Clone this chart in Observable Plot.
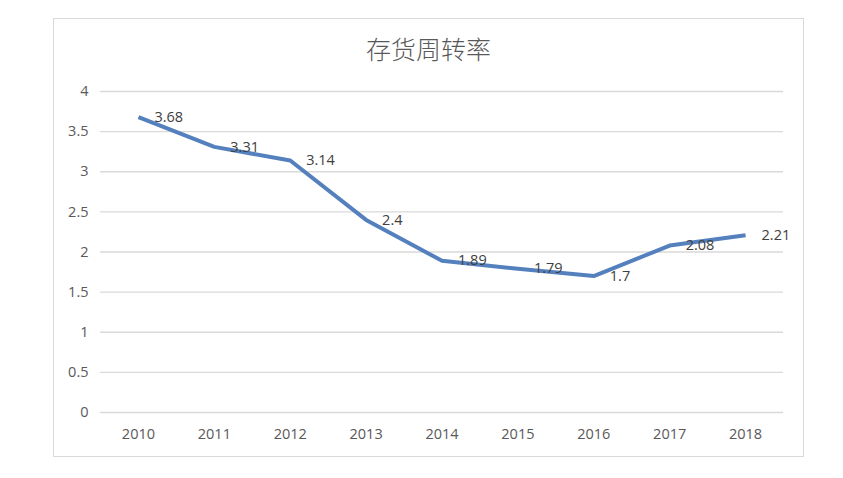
<!DOCTYPE html>
<html>
<head>
<meta charset="utf-8">
<script src="https://cdn.jsdelivr.net/npm/d3@7"></script>
<script src="https://cdn.jsdelivr.net/npm/@observablehq/plot@0.6"></script>
<style>
  html, body { margin: 0; padding: 0; background: #fff; }
  #wrap { position: relative; width: 843px; height: 478px; font-family: "Noto Sans CJK SC", "Open Sans", sans-serif; }
  #border { position: absolute; left: 53px; top: 18px; width: 749px; height: 437px; border: 1.5px solid #d9d9d9; pointer-events: none; }
  #title { position: absolute; left: 53px; width: 751px; top: 31px; line-height: 34px; text-align: center; font-size: 25px; font-weight: 300; color: #595959; font-family: "Noto Sans CJK SC", sans-serif; }
  #chart { position: absolute; left: 0; top: 0; }
</style>
</head>
<body>
<div id="wrap">
  <div id="border"></div>
  <div id="title">存货周转率</div>
  <div id="chart"></div>
</div>
<script>
const years = ["2010","2011","2012","2013","2014","2015","2016","2017","2018"];
const values = [3.68, 3.31, 3.14, 2.4, 1.89, 1.79, 1.7, 2.08, 2.21];
const yTicks = [0, 0.5, 1, 1.5, 2, 2.5, 3, 3.5, 4];

const data = years.map((y, i) => ({year: y, value: values[i]}));

const plot = Plot.plot({
  width: 843,
  height: 478,
  marginLeft: 100,
  marginRight: 60,
  marginTop: 91,
  marginBottom: 66,
  style: { fontFamily: "'Open Sans', 'Noto Sans', sans-serif", fontSize: "14.5px", color: "#595959", background: "transparent" },
  x: { type: "point", domain: years, padding: 0.5, round: false, label: null },
  y: { domain: [0, 4], label: null },
  marks: [
    Plot.gridY(yTicks, { stroke: "#d9d9d9", strokeOpacity: 1, strokeWidth: 1.3 }),
    Plot.axisY(yTicks, { tickSize: 0, tickPadding: 12, fill: "#595959", fontSize: 14.5, label: null, tickFormat: d => String(d) }),
    Plot.axisX(years, { tickSize: 0, tickPadding: 16, fill: "#595959", fontSize: 14.5, label: null }),
    Plot.line(data, { x: "year", y: "value", stroke: "#5480be", strokeWidth: 4, strokeLinejoin: "round", strokeLinecap: "butt" }),
    Plot.text(data, { x: "year", y: "value", text: d => String(d.value), textAnchor: "start", dx: 16, fill: "#404040", fontSize: 14.5 })
  ]
});
document.getElementById("chart").appendChild(plot);
</script>
</body>
</html>
